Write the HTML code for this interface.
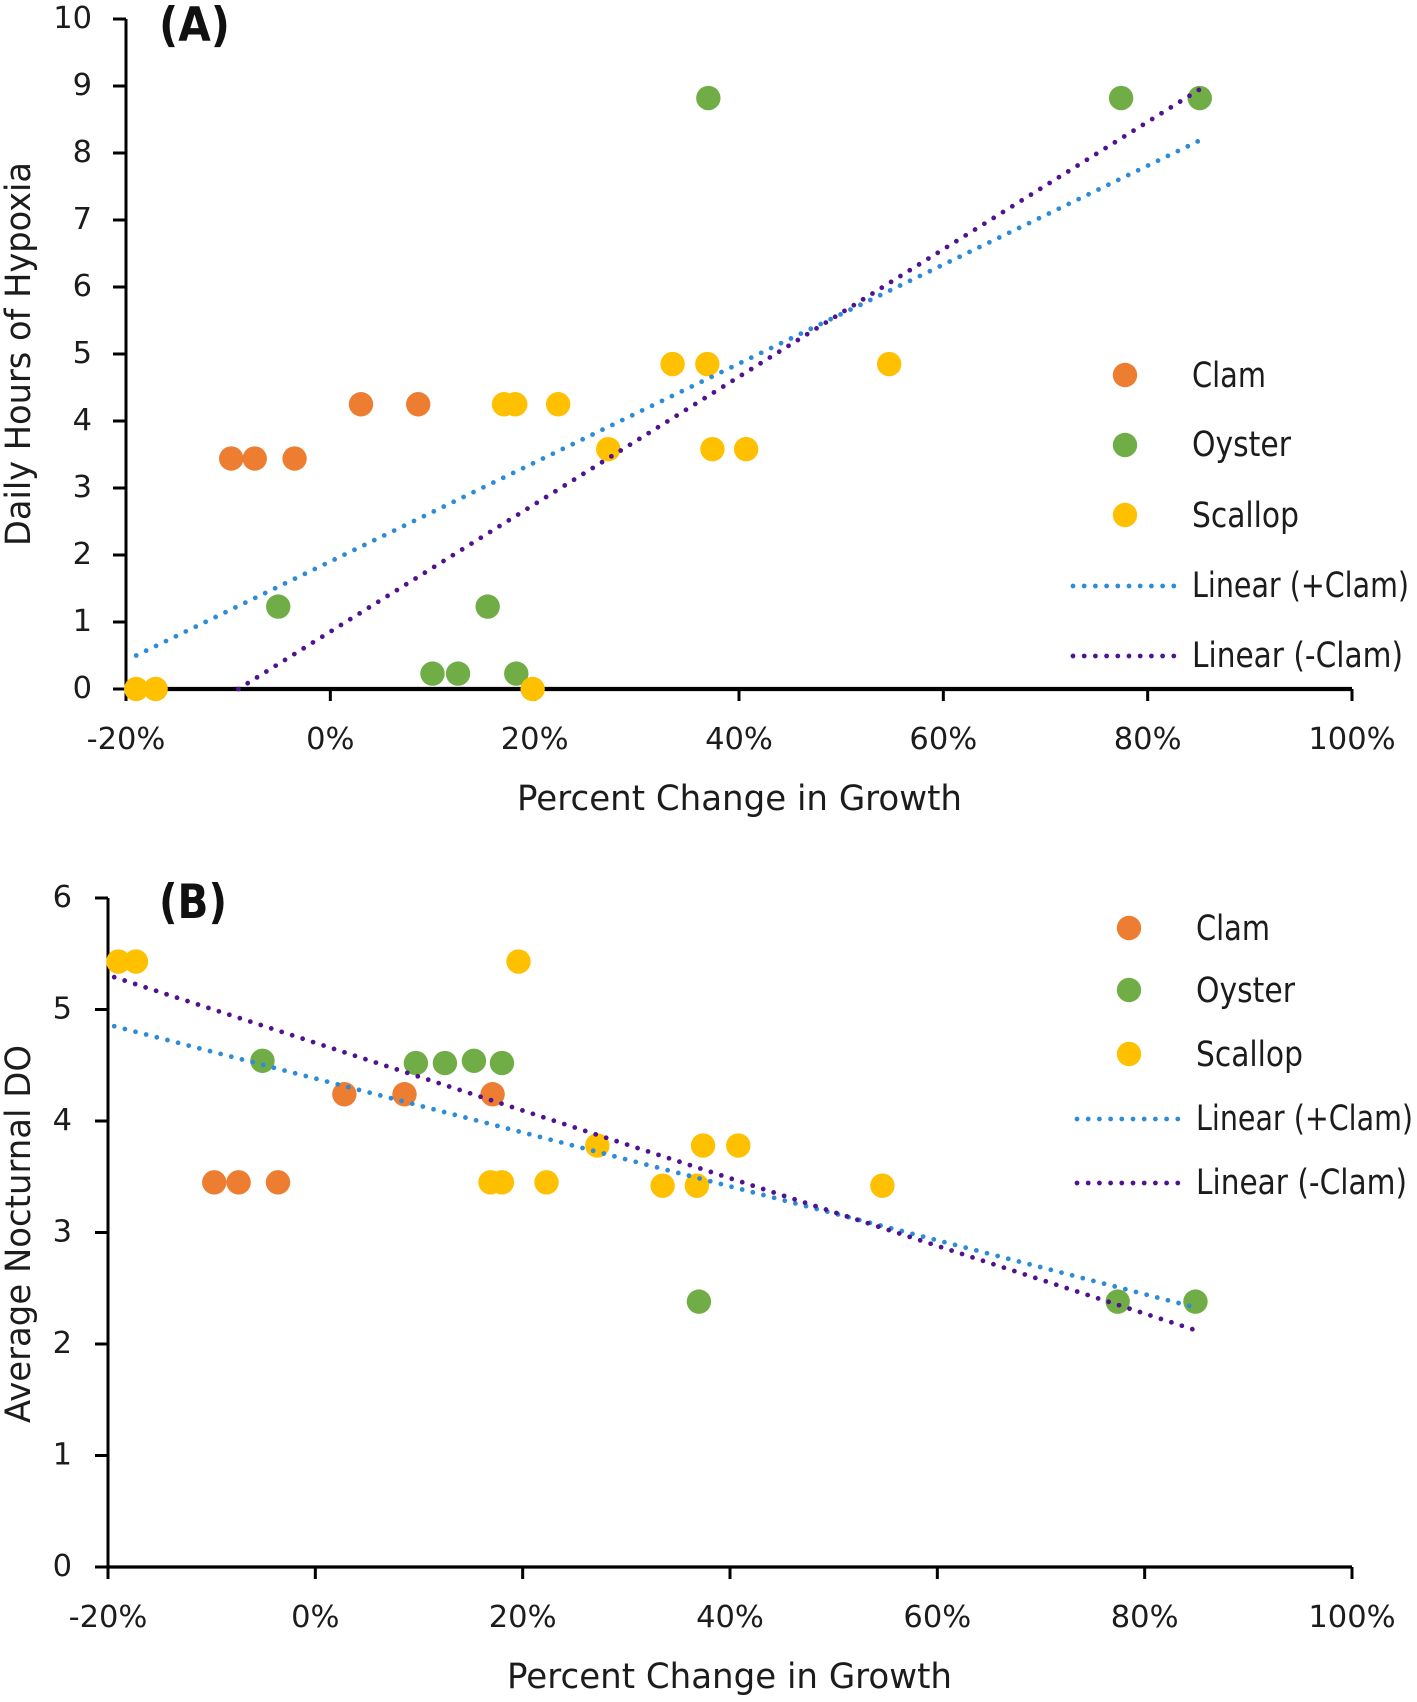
<!DOCTYPE html>
<html lang="en">
<head>
<meta charset="utf-8">
<title>Growth change versus hypoxia and nocturnal DO</title>
<style>
html,body{margin:0;padding:0;background:#fff;width:1417px;height:1702px;overflow:hidden}
svg{display:block}
text{font-family:"DejaVu Sans","Liberation Sans",sans-serif;fill:#1c1c1c;font-size:30.5px}
.big{font-size:35px}
.bold{font-weight:bold;font-size:47px;fill:#111}
</style>
</head>
<body>
<svg id="figure" xmlns="http://www.w3.org/2000/svg" width="1417" height="1702" viewBox="0 0 1417 1702">
  <g id="panel-a">
    <g id="marks-a"></g>
    <text class="bold" x="159" y="41" textLength="71" lengthAdjust="spacingAndGlyphs">(A)</text>
    <text class="big" x="517" y="810" textLength="445" lengthAdjust="spacingAndGlyphs">Percent Change in Growth</text>
    <text class="big" transform="translate(30,546) rotate(-90)" x="0" y="0" textLength="384" lengthAdjust="spacingAndGlyphs">Daily Hours of Hypoxia</text>
    <g>
      <circle cx="1125" cy="375" r="12.2" fill="#ED7D31"/>
      <text class="big" x="1192" y="387" textLength="74" lengthAdjust="spacingAndGlyphs">Clam</text>
      <circle cx="1125" cy="445" r="12.2" fill="#70AD47"/>
      <text class="big" x="1192" y="456" textLength="99" lengthAdjust="spacingAndGlyphs">Oyster</text>
      <circle cx="1125" cy="515" r="12.2" fill="#FFC000"/>
      <text class="big" x="1192" y="527" textLength="107" lengthAdjust="spacingAndGlyphs">Scallop</text>
      <line x1="1073" y1="586" x2="1174" y2="586" stroke="#2E8BD8" stroke-width="4.8" stroke-linecap="round" stroke-dasharray="0 11.2"/>
      <text class="big" x="1192" y="597" textLength="217" lengthAdjust="spacingAndGlyphs">Linear (+Clam)</text>
      <line x1="1073" y1="656" x2="1174" y2="656" stroke="#4F1291" stroke-width="4.8" stroke-linecap="round" stroke-dasharray="0 11.2"/>
      <text class="big" x="1192" y="667" textLength="211" lengthAdjust="spacingAndGlyphs">Linear (-Clam)</text>
    </g>
  </g>
  <g id="panel-b">
    <g id="marks-b"></g>
    <text class="bold" x="159" y="918" textLength="68" lengthAdjust="spacingAndGlyphs">(B)</text>
    <text class="big" x="507" y="1688" textLength="445" lengthAdjust="spacingAndGlyphs">Percent Change in Growth</text>
    <text class="big" transform="translate(30,1423) rotate(-90)" x="0" y="0" textLength="378" lengthAdjust="spacingAndGlyphs">Average Nocturnal DO</text>
    <g>
      <circle cx="1129" cy="928" r="12.2" fill="#ED7D31"/>
      <text class="big" x="1196" y="940" textLength="74" lengthAdjust="spacingAndGlyphs">Clam</text>
      <circle cx="1129" cy="990" r="12.2" fill="#70AD47"/>
      <text class="big" x="1196" y="1002" textLength="99" lengthAdjust="spacingAndGlyphs">Oyster</text>
      <circle cx="1129" cy="1054" r="12.2" fill="#FFC000"/>
      <text class="big" x="1196" y="1066" textLength="107" lengthAdjust="spacingAndGlyphs">Scallop</text>
      <line x1="1077" y1="1119" x2="1178" y2="1119" stroke="#2E8BD8" stroke-width="4.8" stroke-linecap="round" stroke-dasharray="0 11.2"/>
      <text class="big" x="1196" y="1130" textLength="217" lengthAdjust="spacingAndGlyphs">Linear (+Clam)</text>
      <line x1="1077" y1="1183" x2="1178" y2="1183" stroke="#4F1291" stroke-width="4.8" stroke-linecap="round" stroke-dasharray="0 11.2"/>
      <text class="big" x="1196" y="1194" textLength="211" lengthAdjust="spacingAndGlyphs">Linear (-Clam)</text>
    </g>
  </g>
</svg>
<script>
// Shared tick labels
const xTickValues = [-20, 0, 20, 40, 60, 80, 100];
const yTicksA = [0, 1, 2, 3, 4, 5, 6, 7, 8, 9, 10];
const yTicksB = [0, 1, 2, 3, 4, 5, 6];

// Panel A: percent change in growth vs daily hours of hypoxia
const clamGrowthA = [-9.7, -7.4, -3.5, 3.0, 8.6];
const clamHoursA = [3.44, 3.44, 3.44, 4.25, 4.25];
const oysterGrowthA = [-5.1, 10, 12.5, 15.4, 18.2, 37, 77.4, 85.1];
const oysterHoursA = [1.23, 0.23, 0.23, 1.23, 0.23, 8.82, 8.82, 8.82];
const scallopGrowthA = [-19, -17.1, 17, 18.1, 22.3, 19.8, 27.2, 33.5, 36.9, 37.4, 40.7, 54.7];
const scallopHoursA = [0, 0, 4.25, 4.25, 4.25, 0, 3.58, 4.85, 4.85, 3.58, 3.58, 4.85];
const plusClamGrowthA = [-19, 85];
const plusClamHoursA = [0.5, 8.18];
const minusClamGrowthA = [-9, 85.1];
const minusClamHoursA = [0, 8.95];

// Panel B: percent change in growth vs average nocturnal DO
const clamGrowthB = [-9.75, -7.4, -3.6, 2.8, 8.6, 17.1];
const clamDoB = [3.45, 3.45, 3.45, 4.24, 4.24, 4.24];
const oysterGrowthB = [-5.1, 9.7, 12.5, 15.3, 18, 37, 77.4, 84.9];
const oysterDoB = [4.54, 4.52, 4.52, 4.54, 4.52, 2.38, 2.38, 2.38];
const scallopGrowthB = [-19, -17.3, 19.6, 16.9, 18, 22.3, 27.2, 33.5, 36.8, 37.4, 40.8, 54.7];
const scallopDoB = [5.43, 5.43, 5.43, 3.45, 3.45, 3.45, 3.78, 3.42, 3.42, 3.78, 3.78, 3.42];
const plusClamGrowthB = [-19.4, 84.4];
const plusClamDoB = [4.85, 2.34];
const minusClamGrowthB = [-19.4, 84.7];
const minusClamDoB = [5.29, 2.13];

const NS = 'http://www.w3.org/2000/svg';

function make(parent, tag, attrs, text) {
  const el = document.createElementNS(NS, tag);
  Object.keys(attrs).forEach(function (k) { el.setAttribute(k, attrs[k]); });
  if (text !== undefined) el.textContent = text;
  parent.appendChild(el);
  return el;
}

function linearScale(d0, d1, r0, r1) {
  return function (v) { return r0 + (v - d0) * (r1 - r0) / (d1 - d0); };
}

function drawDots(g, xs, ys, sx, sy, color, name) {
  xs.forEach(function (x, i) {
    const dot = make(g, 'circle', { cx: sx(x), cy: sy(ys[i]), r: 12.2, fill: color });
    
    
  });
}

function drawTrend(g, xs, ys, sx, sy, color, name) {
  const x1 = sx(xs[0]), y1 = sy(ys[0]), x2 = sx(xs[1]), y2 = sy(ys[1]);
  const len = Math.hypot(x2 - x1, y2 - y1);
  const gap = (len / Math.round(len / 11)) * 0.999;
  const line = make(g, 'line', {
    x1: x1, y1: y1, x2: x2, y2: y2,
    stroke: color, 'stroke-width': 4.8, 'stroke-linecap': 'round', 'stroke-dasharray': '0 ' + gap
  });
  
  
}

function drawAxes(g, o, sx, sy, yTicks) {
  const xAxis = make(g, 'line', { x1: o.left, y1: o.bottom, x2: o.right, y2: o.bottom, stroke: '#000', 'stroke-width': o.xAxisWidth });
  
  
  const yAxis = make(g, 'line', { x1: o.left, y1: o.top, x2: o.left, y2: o.bottom, stroke: '#000', 'stroke-width': 3 });
  
  

  xTickValues.forEach(function (v) {
    const tick = make(g, 'line', { x1: sx(v), y1: o.bottom, x2: sx(v), y2: o.bottom + 12, stroke: '#000', 'stroke-width': 3 });
    
    
    const label = make(g, 'text', { x: sx(v), y: o.xLabelY, 'text-anchor': 'middle' }, v + '%');
    
    
  });

  yTicks.forEach(function (v) {
    const tick = make(g, 'line', { x1: o.left - 13, y1: sy(v), x2: o.left, y2: sy(v), stroke: '#000', 'stroke-width': 3 });
    
    
    const label = make(g, 'text', { x: o.yLabelX, y: sy(v) + 9, 'text-anchor': 'end' }, String(v));
    
    
  });
}

// Panel A
const frameA = { left: 126, right: 1352, top: 19, bottom: 689, xAxisWidth: 4.2, xLabelY: 749, yLabelX: 92 };
const sxA = linearScale(-20, 100, frameA.left, frameA.right);
const syA = linearScale(0, 10, frameA.bottom, frameA.top);
const gA = document.getElementById('marks-a');
drawAxes(gA, frameA, sxA, syA, yTicksA);
drawDots(gA, clamGrowthA, clamHoursA, sxA, syA, '#ED7D31', 'clam');
drawDots(gA, oysterGrowthA, oysterHoursA, sxA, syA, '#70AD47', 'oyster');
drawDots(gA, scallopGrowthA, scallopHoursA, sxA, syA, '#FFC000', 'scallop');
drawTrend(gA, plusClamGrowthA, plusClamHoursA, sxA, syA, '#2E8BD8', 'trendline-plus-clam');
drawTrend(gA, minusClamGrowthA, minusClamHoursA, sxA, syA, '#4F1291', 'trendline-minus-clam');

// Panel B
const frameB = { left: 108, right: 1352, top: 898, bottom: 1567, xAxisWidth: 3.2, xLabelY: 1627, yLabelX: 72 };
const sxB = linearScale(-20, 100, frameB.left, frameB.right);
const syB = linearScale(0, 6, frameB.bottom, frameB.top);
const gB = document.getElementById('marks-b');
drawAxes(gB, frameB, sxB, syB, yTicksB);
drawDots(gB, clamGrowthB, clamDoB, sxB, syB, '#ED7D31', 'clam');
drawDots(gB, oysterGrowthB, oysterDoB, sxB, syB, '#70AD47', 'oyster');
drawDots(gB, scallopGrowthB, scallopDoB, sxB, syB, '#FFC000', 'scallop');
drawTrend(gB, plusClamGrowthB, plusClamDoB, sxB, syB, '#2E8BD8', 'trendline-plus-clam');
drawTrend(gB, minusClamGrowthB, minusClamDoB, sxB, syB, '#4F1291', 'trendline-minus-clam');
</script>
</body>
</html>
